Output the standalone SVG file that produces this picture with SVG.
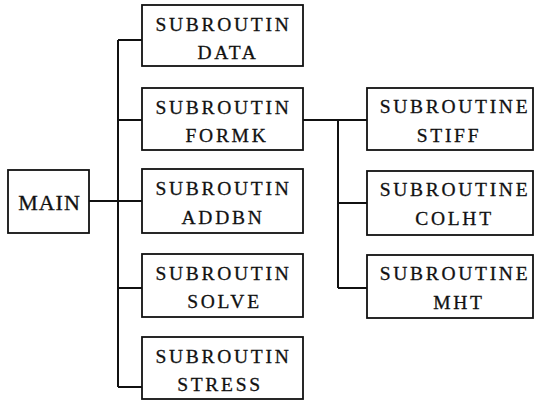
<svg xmlns="http://www.w3.org/2000/svg" width="539" height="401" viewBox="0 0 539 401">
<style>
rect{fill:#fff;stroke:#111;stroke-width:1.8}
.c path{fill:none;stroke:#111;stroke-width:2}
text{font-family:"Liberation Serif","DejaVu Serif",serif;font-size:19.5px;fill:#111;stroke:#111;stroke-width:0.3;text-anchor:middle;letter-spacing:2.7px}
</style>
<rect x="0" y="0" width="539" height="401" style="fill:#fff;stroke:none"/>
<g class="c" id="connectors">
<path d="M89 201H118M118 40V387M118 40H142M118 120H142M118 201H142M118 288H142M118 387H142"/>
<path d="M303 120H367M338 120V288M338 203H367M338 288H367"/>
</g>
<g id="main"><rect x="8" y="170" width="81" height="63"/><text x="49.5" y="210" style="font-size:22px;letter-spacing:1px">MAIN</text></g>
<g id="data"><rect x="142" y="5" width="161" height="61"/><text x="223.5" y="30.5">SUBROUTIN</text><text x="228" y="59">DATA</text></g>
<g id="formk"><rect x="142" y="88" width="161" height="62"/><text x="223.5" y="113.5">SUBROUTIN</text><text x="227" y="142">FORMK</text></g>
<g id="addbn"><rect x="142" y="169" width="161" height="64"/><text x="223.5" y="195">SUBROUTIN</text><text x="223" y="224">ADDBN</text></g>
<g id="solve"><rect x="142" y="254" width="161" height="63"/><text x="223.5" y="279.5">SUBROUTIN</text><text x="224.5" y="308">SOLVE</text></g>
<g id="stress"><rect x="142" y="337" width="161" height="62"/><text x="223.5" y="362.5">SUBROUTIN</text><text x="220" y="391">STRESS</text></g>
<g id="stiff"><rect x="367" y="88" width="166" height="62"/><text x="455" y="113">SUBROUTINE</text><text x="449" y="142">STIFF</text></g>
<g id="colht"><rect x="367" y="171" width="166" height="64"/><text x="455" y="196">SUBROUTINE</text><text x="454.5" y="225">COLHT</text></g>
<g id="mht"><rect x="367" y="255" width="166" height="63"/><text x="455" y="280">SUBROUTINE</text><text x="459" y="309">MHT</text></g>
</svg>
